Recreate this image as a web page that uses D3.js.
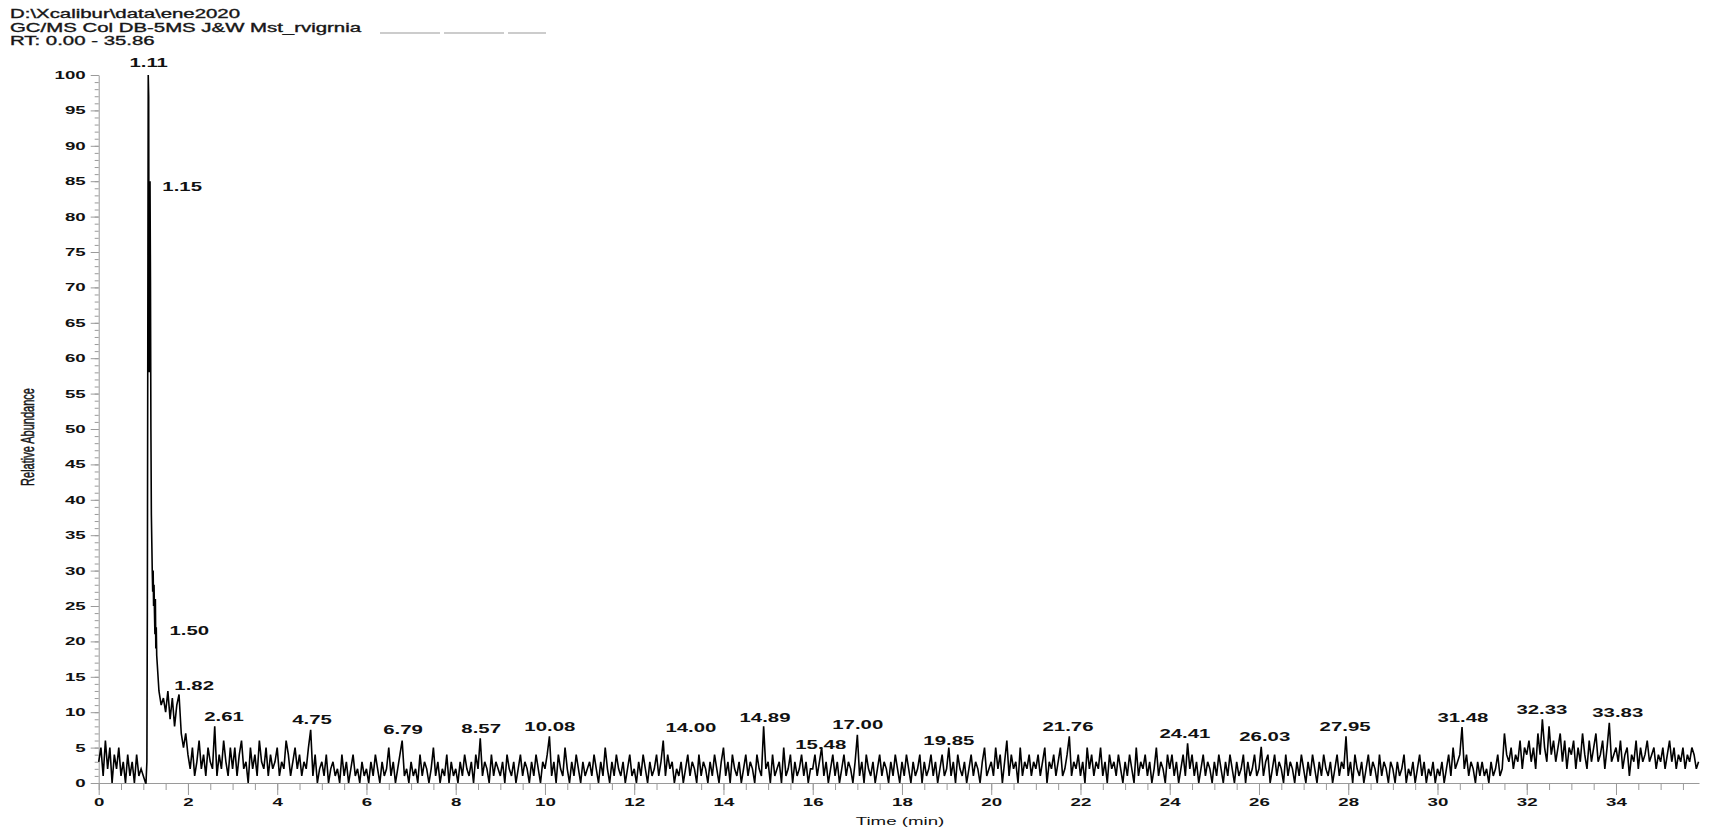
<!DOCTYPE html>
<html>
<head>
<meta charset="utf-8">
<script src="https://cdn.jsdelivr.net/npm/d3@7"></script>
<style>
body { margin: 0; background: #fff; }
svg { display: block; }
text { font-family: "Liberation Sans", Arial, sans-serif; fill: #111; }
</style>
</head>
<body>
<script>
// header of the Xcalibur printout
var titleLines = ["D:\\Xcalibur\\data\\ene2020", "GC/MS Col DB-5MS J&W Mst_rvigrnia", "RT: 0.00 - 35.86"];

// relative abundance, one scan every 0.05 min, one row per minute
var scanStep = 0.05;
var min00 = [3,5,1,6,2,5,0,4,2,5,1,3,0,4,1,3,0,4,1,2];
var min01 = [1,0,62,85,30,24,18,13,11,12,10,13,9,12,8,11,12.5,7,5,7];
var min02 = [4,2,5,1,3,6,2,4,1,5,3,2,8,1,4,2,6,3,1,5];
var min03 = [2,5,1,4,6,2,3,0,5,2,4,1,6,3,2,5,1,4,2,3];
var min04 = [5,1,3,2,6,4,1,3,5,2,4,1,3,2,5,7.5,1,4,0,2];
var min05 = [3,1,4,0,2,3,1,2,0,4,1,3,0,2,4,1,2,0,3,1];
var min06 = [2,0,3,1,4,2,0,3,1,2,5,1,3,0,2,4,6,1,2,0];
var min07 = [3,1,2,0,4,1,3,2,0,2,5,1,3,0,2,1,4,0,3,1];
var min08 = [2,0,3,1,4,2,1,3,0,4,2,6.3,1,3,2,0,4,1,3,2];
var min09 = [1,3,0,4,2,1,3,0,2,4,1,3,2,0,3,1,4,2,0,3];
var min10 = [2,4,6.6,1,3,0,4,2,1,5,2,0,3,1,4,2,0,3,1,2];
var min11 = [3,1,4,2,0,3,1,5,2,0,3,1,4,2,1,3,0,2,4,1];
var min12 = [2,0,3,1,4,2,0,3,1,2,4,1,3,6,1,4,2,3,0,2];
var min13 = [1,3,0,2,4,1,3,2,0,4,1,3,2,0,3,1,4,2,0,3];
var min14 = [5,1,3,0,4,2,1,3,0,2,4,1,3,2,0,4,2,1,8,2];
var min15 = [3,0,4,1,2,3,0,5,1,2,4,0,3,1,2,4,1,3,0,2];
var min16 = [2,4,1,3,5,1,3,0,2,4,1,3,0,2,4,1,3,2,0,3];
var min17 = [6.8,1,3,0,4,2,1,3,0,2,4,1,3,2,0,3,1,4,2,0];
var min18 = [3,1,4,2,0,3,1,2,4,0,3,1,2,4,1,3,0,2,4,1];
var min19 = [2,5,1,3,0,4,2,1,3,0,2,4,1,3,2,0,3,5,1,2];
var min20 = [3,1,5,2,4,0,3,6,1,4,2,3,0,5,1,3,2,4,1,3];
var min21 = [2,4,1,3,5,0,3,2,4,1,3,5,1,2,4,6.6,1,3,2,4];
var min22 = [1,3,0,5,2,4,1,3,2,5,1,3,0,4,2,3,1,4,2,0];
var min23 = [3,1,4,2,0,5,1,3,2,4,1,3,0,2,5,1,3,2,0,4];
var min24 = [2,4,1,3,0,2,4,1,5.6,2,4,1,3,0,2,4,1,3,2,0];
var min25 = [3,1,4,2,0,3,1,4,2,0,3,1,2,4,0,3,1,2,4,1];
var min26 = [2,5.1,1,3,4,0,2,4,1,3,2,0,4,1,3,2,0,3,1,4];
var min27 = [2,0,3,1,4,2,0,3,1,4,2,1,3,0,2,4,1,3,2,6.6];
var min28 = [1,3,0,4,2,1,3,0,2,4,1,3,2,0,4,1,3,2,0,3];
var min29 = [2,0,3,1,2,4,0,2,1,3,0,2,4,1,3,0,2,1,3,0];
var min30 = [2,1,3,0,2,4,1,5,2,3,4,7.9,2,4,1,3,2,0,3,1];
var min31 = [3,1,2,0,3,1,2,4,1,2,7,4,3,5,2,4,3,6,2,5];
var min32 = [4,6,3,5,2,7,4,9,5,3,8,4,6,3,5,7,3,6,2,5];
var min33 = [4,6,2,5,3,7,4,2,6,3,5,7,3,4,6,2,5,8.5,3,4];
var min34 = [5,3,6,2,4,5,1,4,3,6,2,5,3,4,6,3,4,5,2,4];
var min35 = [3,5,2,4,6,3,5,2,4,3,5,2,4,3,5,4,2,3];

// extra scans across the top of the big peak
var apexTimes  = [1.06,1.08,1.09,1.11,1.12,1.13,1.14,1.16,1.17,1.18,1.19,1.21,1.22,1.23,1.24,1.26,1.27,1.28,1.29];
var apexValues = [0,3,24,100,97,58,74,71,50,38,34,27,30,25,28,21,26,19,22];

// peak labels as printed, and where they sit
var peakLabels = ["1.11","1.15","1.50","1.82","2.61","4.75","6.79","8.57","10.08","14.00","14.89",
                  "15.48","17.00","19.85","21.76","24.41","26.03","27.95","31.48","32.33","33.83"];
var peakLabelTimes = [1.12,1.87,2.03,2.14,2.81,4.78,6.82,8.57,10.11,13.27,14.93,
                      16.18,17.01,19.05,21.72,24.34,26.13,27.93,30.57,32.34,34.04];
var peakLabelLevels = [100.5,83,20.4,12.6,8.2,7.7,6.3,6.5,6.8,6.7,8.1,
                       4.3,7.0,4.8,6.8,5.8,5.3,6.8,8.1,9.2,8.7];

var xTickValues = [0,2,4,6,8,10,12,14,16,18,20,22,24,26,28,30,32,34];
var yTickValues = [0,5,10,15,20,25,30,35,40,45,50,55,60,65,70,75,80,85,90,95,100];

var rtEnd = 35.86;
var sx = 1.7; // the printout is stretched sideways

var width = 1710, height = 829;

var svg = d3.select("body").append("svg")
    .attr("width", width)
    .attr("height", height);

var x = d3.scaleLinear().domain([0, rtEnd]).range([98.7, 1699]);
var y = d3.scaleLinear().domain([0, 100]).range([783, 75]);

// build the scan list
var rows = [min00,min01,min02,min03,min04,min05,min06,min07,min08,min09,min10,min11,
            min12,min13,min14,min15,min16,min17,min18,min19,min20,min21,min22,min23,
            min24,min25,min26,min27,min28,min29,min30,min31,min32,min33,min34,min35];
var scans = [];
rows.forEach(function(row, m) {
  row.forEach(function(v, i) {
    scans.push({t: +(m + i * scanStep).toFixed(2), v: v});
  });
});
apexTimes.forEach(function(t, i) { scans.push({t: t, v: apexValues[i]}); });
scans.sort(function(a, b) { return a.t - b.t; });

// header text
svg.selectAll(".title")
    .data(titleLines)
  .enter().append("text")
    .attr("class", "title")
    .attr("transform", function(d, i) { return "translate(10," + (18 + i * 13.5) + ") scale(" + sx + ",1)"; })
    .style("font-size", "12px")
    .style("stroke", "#222")
    .style("stroke-width", 0.35)
    .text(function(d) { return d; });

svg.append("line")
    .attr("x1", 380).attr("x2", 546)
    .attr("y1", 33).attr("y2", 33)
    .attr("stroke", "#999")
    .attr("stroke-dasharray", "60,4");

// x axis: minor then major ticks
svg.append("g")
    .attr("transform", "translate(0," + y(0) + ")")
    .call(d3.axisBottom(x).tickValues(d3.range(0, rtEnd, 0.5)).tickSize(7).tickFormat(""))
    .call(function(g) { g.select(".domain").remove(); });

var xAxis = svg.append("g")
    .attr("transform", "translate(0," + y(0) + ")")
    .call(d3.axisBottom(x).tickValues(xTickValues).tickSize(12).tickSizeOuter(0).tickFormat(d3.format("d")));

xAxis.selectAll("text")
    .attr("y", 15)
    .attr("transform", "scale(" + sx + ",1)")
    .style("font-size", "11px")
    .style("font-weight", "bold");

// y axis
svg.append("g")
    .attr("transform", "translate(" + x(0) + ",0)")
    .call(d3.axisLeft(y).tickValues(d3.range(0, 101, 1)).tickSize(4).tickFormat(""))
    .call(function(g) { g.select(".domain").remove(); });

var yAxis = svg.append("g")
    .attr("transform", "translate(" + x(0) + ",0)")
    .call(d3.axisLeft(y).tickValues(yTickValues).tickSize(8).tickSizeOuter(0).tickFormat(d3.format("d")));

yAxis.selectAll("text")
    .attr("x", -13 / sx)
    .attr("transform", "scale(" + sx + ",1)")
    .style("font-size", "11px")
    .style("font-weight", "bold");

svg.selectAll(".domain, .tick line").attr("stroke", "#9a9a9a");

// axis titles
svg.append("text")
    .attr("transform", "translate(34,437) scale(" + sx + ",1) rotate(-90)")
    .attr("text-anchor", "middle")
    .style("font-size", "11px")
    .style("stroke", "#222")
    .style("stroke-width", 0.3)
    .text("Relative Abundance");

svg.append("text")
    .attr("transform", "translate(900,825) scale(" + sx + ",1)")
    .attr("text-anchor", "middle")
    .style("font-size", "11px")
    .text("Time (min)");

// the trace
var line = d3.line()
    .x(function(d) { return x(d.t); })
    .y(function(d) { return y(d.v); });

svg.append("path")
    .datum(scans)
    .attr("fill", "none")
    .attr("stroke", "#000")
    .attr("stroke-width", 1.6)
    .attr("d", line);

// peak labels
svg.selectAll(".peak")
    .data(peakLabels)
  .enter().append("text")
    .attr("class", "peak")
    .attr("text-anchor", "middle")
    .attr("transform", function(d, i) {
      return "translate(" + x(peakLabelTimes[i]) + "," + (y(peakLabelLevels[i]) - 4) + ") scale(" + sx + ",1)";
    })
    .style("font-size", "12px")
    .style("font-weight", "bold")
    .text(function(d) { return d; });
</script>
</body>
</html>
